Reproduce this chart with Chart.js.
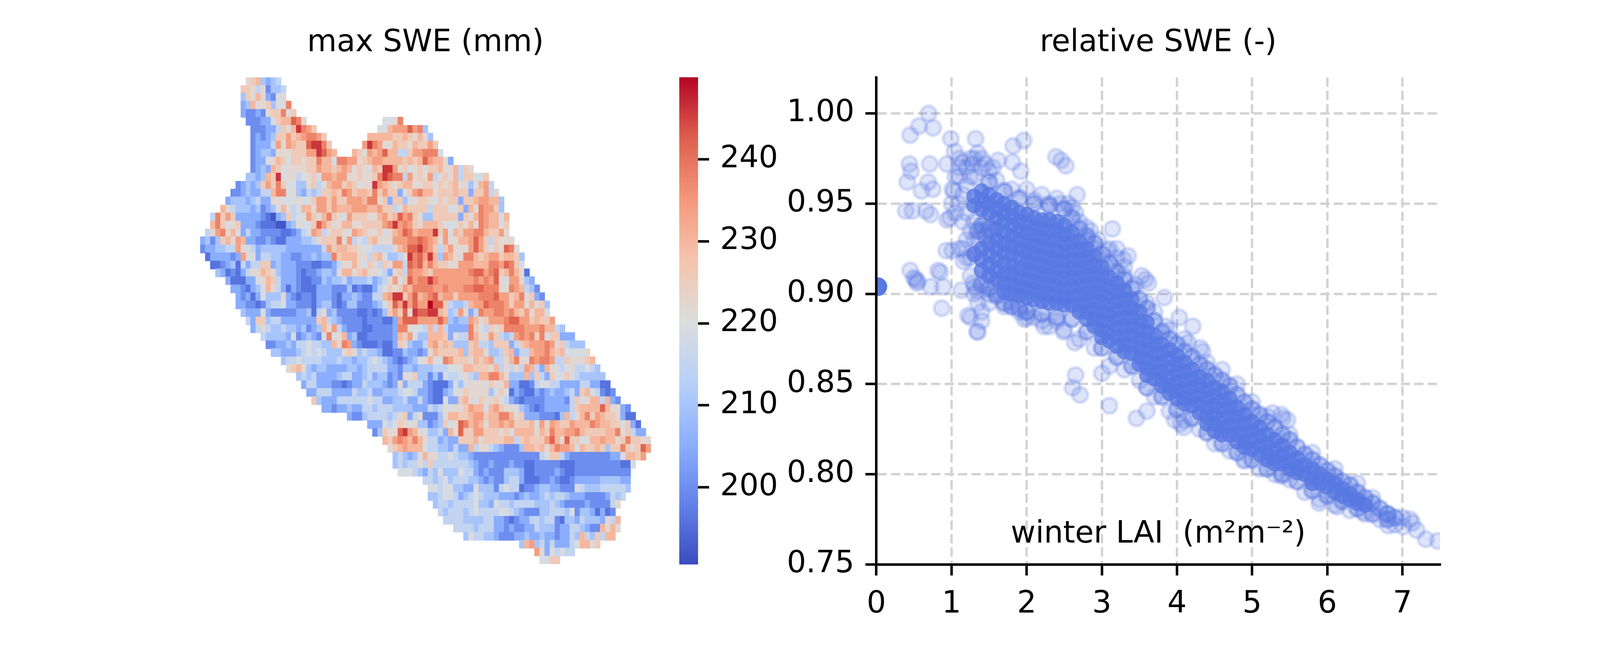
<!DOCTYPE html>
<html>
<head>
<meta charset="utf-8">
<title>SWE and LAI</title>
<script src="https://cdn.jsdelivr.net/npm/chart.js@4"></script>
<style>
  html, body { margin: 0; background: #fff; }
  canvas { position: absolute; top: 0; }
</style>
</head>
<body>
<canvas id="map"></canvas>
<canvas id="bar"></canvas>
<canvas id="lai"></canvas>
<script>
// max SWE map, one string per grid row, one hex digit per cell, '.' = no data
const sweLevels = [192, 196, 200, 205, 210, 215, 219, 222, 226, 230, 234, 238, 242, 246, 250];
const firstCol = [9, 8, 8, 8, 8, 9, 10, 10, 10, 10, 10, 10, 9, 7, 6, 5, 4, 2, 2, 1, 0, 0, 1, 2, 3, 5, 6, 7, 7, 8,
  9, 10, 12, 13, 14, 16, 17, 19, 20, 21, 22, 24, 29, 33, 34, 36, 37, 38, 38, 39, 44, 45, 45, 46, 47, 48, 50, 52, 63, 66, 67];
const sweRows = [
  "7894345",
  "887572445",
  "487973267",
  "349778466b",
  "32232788b78",
  "222336899cb7...............667b",
  "222335879dba8............669aaacab4",
  "2323488a89abba8........9999988987974",
  "23335a7a988cddb8......adba779887988a8",
  "23443777888aadca9...987a9ac99558aabbb6",
  "2336798688788b996bbaa789aa99998989ca9973",
  "2343986777788a9989a9787698dda786786889779587",
  "443498d67756786aa9aa778778bdcbb5a787a57879588668",
  "234348a8b8664478569aa898677da98789977886878977469a5",
  "223433559bb67435458898ba8998b8a88368ab997888988388a57",
  "344434533776667668aa8a88aaa9bb78388467887687883889aa994",
  "9754443423469756997aa8a999aaa99a8856988885888668397baa84",
  "5b8a833333210348566a879b876a888779a89cab8744888883879ba9969",
  "9b8678333211100347668ca87799778888abdaba8799986668797ba9968",
  "57ab79635332222112356a9578876a98778679acb9aaad8a698aabb988a7",
  "3424897a9332232113334457888b7a56589777aaabbcba97a7799aca858777",
  "2334455a76534444433333335a89988766555579accdba858a777aca8687cb7",
  "1333323a76355443322334344b89997758964457dbcad94a977bb989aa89984",
  "112341535588343332221122357797687587aa5cbc9b98877aaa999bbacb86",
  "43121357798743332122344379978977653785baa98aaaaaaabccabc89b971",
  "311133679853332112243445344453457a68cabbdbaaaaaaababac76aa743",
  "3321346975313211133322241211356878a9bbbbaabaaabbccbbb77ba9542",
  "323136444732122133321334322559add8ac9abc9aa8aaaabbbcaa89b7832",
  "3322124556332221344212442223468cadacaaecc854459aacbbba8aa79784",
  "433363222223341573422221121248a8c7dccdd9845a735baabbab98a7996",
  "538845533333338954322221222113acccaaaaca4344a978aaabccaa8988a",
  "3575445443423497a532221122223bb766595953333b865878bbbbaaab9954",
  "5444436234326b679341122222398a64499983655b977a8545abab8b688333",
  "223343556554497ba3211121138743359a898444895548883589aaaba785444",
  "4433345656544478745443112243323798888948997445893559aab98966667",
  "45565555444544344565432123467966ba8887989a5579b77babba55877789",
  "78974344333344345555332443444555667998887957575a95397656755654",
  "45453333455334534423276844242655675499bb974449485386686544444",
  "3553332212335444323735553211136467776877933112566553333553311",
  "3355533335445334445665332113467877774686132113234334538965212",
  "8433355555565533445335321163389768778653212222333325867995932",
  "33233433554555444433354576778a9969a87764321233333589999c97732",
  "3224555545783572224799889aa899bb978333222149579b8a9887311",
  "333656876744234867cb9a9799a9a88896a7a988a999ba99886831",
  "24877cda976445397c88aa8887869999798b99aab9888899b78533",
  "98aba9b9755343388897888899589888ac97c886699a9978b8877",
  "789a99965544353395775432224998979baa9698898488b878ca",
  "4543469775565443222222222222256885322222222336998a",
  "454557585555555432232223221122222111222222222116",
  "6665435464446553232224443112222321122222222222",
  "55456455544323224553111223211233333444433",
  "6656644336444256551223443322265444555554",
  "445665345654443332343345455433322223545",
  "4554555564436554555544454322223222257",
  "54555456555566543222445554624431312",
  "55554444553321233554552144354443759",
  "555545553323223354442335543229797",
  "465544322233433433233549548599",
  "49a4535333569978",
  "a7365655",
  "6688"
];
const mapCols = 89;

// colour bar
const barMin = 190.6;
const barMax = 250;
const barTicks = [200, 210, 220, 230, 240];

// winter LAI against relative SWE, loose points read one by one
const looseLai = [0.695, 0.565, 0.45, 0.755, 0.99, 1.32, 1.96, 1.82, 1.04, 2.39, 2.46, 2.52, 1.62, 1.81, 1.92, 0.94, 0.71, 0.44, 0.46,
  0.41, 0.69, 0.6, 0.75, 1.03, 1.01, 0.39, 0.48, 0.66, 0.72, 0.94, 0.98, 0.45, 0.5, 0.52, 0.54, 0.55, 0.72, 0.82, 0.85, 0.89, 0.87,
  1.13, 0.93, 1.01, 1.16, 1.29, 1.31, 1.34, 1.22, 1.25, 1.4, 1.4, 1.35, 1.34, 2.65, 2.61, 2.71, 3.1, 3.6, 3.46, 3.0, 3.97, 4.05, 4.09,
  5.27, 5.39, 5.41, 5.47, 3.83, 3.53, 3.58, 3.62, 3.14, 3.08, 3.35, 3.29, 2.79, 2.67, 4.34, 4.31, 4.21, 4.03, 3.85, 4.15, 2.64, 2.23,
  1.97, 2.0, 2.49, 4.89, 5.39, 5.89, 6.13, 6.81, 7.13, 7.19, 7.31, 7.47, 7.01, 6.48,
  1.6, 1.8, 2.0, 2.2, 2.4, 2.55, 2.7, 2.85, 2.95, 3.2, 3.3, 3.45, 3.6, 3.7, 3.9, 4.1, 4.4, 4.6, 4.8, 5.0, 5.2, 5.5, 5.8, 6.1, 6.4, 6.6,
  6.8, 7.0, 7.1, 1.5, 1.7, 1.9, 2.1, 2.3, 2.5, 2.7, 2.9, 3.1, 3.3, 3.5, 3.7, 3.9, 4.1, 4.3, 4.5, 4.7, 4.9, 5.1, 5.3, 5.5, 5.7, 5.9,
  6.1, 6.3, 6.5, 6.7, 6.9, 1.1, 1.2, 1.3, 1.4, 1.15, 1.2, 1.25, 1.3, 1.25, 1.1, 1.05,
  1.1, 1.15, 1.25, 1.28, 1.35, 1.4, 1.45, 1.5, 1.55, 1.2, 1.25, 1.3, 1.1, 1.0, 1.05, 1.15, 1.2, 1.15, 1.2, 1.1, 1.25, 1.3, 1.35, 1.45,
  1.5, 1.6, 1.8, 2.0, 2.2, 2.4, 2.1, 2.3, 2.45, 2.6, 2.65, 2.8, 2.9, 3.1, 3.15, 3.3, 3.2, 1.3, 1.4, 1.5, 1.35, 1.45, 1.55];
const looseRel = [1.0, 0.993, 0.988, 0.992, 0.986, 0.986, 0.985, 0.982, 0.979, 0.976, 0.974, 0.971, 0.974, 0.973, 0.968, 0.972, 0.972, 0.972, 0.968,
  0.962, 0.962, 0.957, 0.958, 0.957, 0.958, 0.946, 0.946, 0.946, 0.944, 0.941, 0.942, 0.913, 0.909, 0.908, 0.906, 0.907, 0.904, 0.913, 0.912, 0.904, 0.892,
  0.902, 0.924, 0.924, 0.918, 0.906, 0.904, 0.9015, 0.888, 0.887, 0.89, 0.885, 0.879, 0.879, 0.855, 0.848, 0.844, 0.838, 0.835, 0.831, 0.856, 0.83, 0.828, 0.826,
  0.834, 0.833, 0.831, 0.83, 0.898, 0.91, 0.908, 0.906, 0.936, 0.924, 0.921, 0.919, 0.937, 0.955, 0.868, 0.87, 0.882, 0.887, 0.882, 0.873, 0.873, 0.882,
  0.886, 0.887, 0.879, 0.8075, 0.799, 0.784, 0.782, 0.7715, 0.773, 0.769, 0.764, 0.763, 0.771, 0.779,
  0.963, 0.958, 0.958, 0.955, 0.953, 0.95, 0.94, 0.935, 0.93, 0.925, 0.915, 0.905, 0.895, 0.89, 0.88, 0.875, 0.862, 0.858, 0.85, 0.84, 0.832, 0.822, 0.812, 0.803, 0.795, 0.787,
  0.778, 0.776, 0.775, 0.9, 0.893, 0.89, 0.887, 0.882, 0.88, 0.875, 0.87, 0.86, 0.858, 0.852, 0.843, 0.835, 0.83, 0.825, 0.817, 0.813, 0.808, 0.803, 0.8, 0.797, 0.79, 0.786,
  0.783, 0.78, 0.778, 0.775, 0.772, 0.965, 0.97, 0.975, 0.97, 0.955, 0.945, 0.935, 0.93, 0.92, 0.97, 0.965,
  0.975, 0.973, 0.975, 0.972, 0.978, 0.975, 0.972, 0.968, 0.97, 0.96, 0.965, 0.965, 0.95, 0.95, 0.945, 0.94, 0.93, 0.925, 0.92, 0.925, 0.91, 0.9, 0.895, 0.905,
  0.895, 0.9, 0.895, 0.89, 0.885, 0.885, 0.952, 0.95, 0.95, 0.948, 0.945, 0.93, 0.925, 0.925, 0.915, 0.91, 0.92, 0.94, 0.935, 0.937, 0.93, 0.94, 0.935];

// rim of the cloud, denser than the loose points but not solid
const rimLai = [1.5, 1.7, 1.9, 2.1, 2.3, 2.5, 2.6, 2.7, 2.8, 2.9, 3.0, 3.1, 3.2, 3.3, 3.4, 3.5, 3.6, 3.7, 3.8, 3.9, 4.0, 4.1, 4.2, 4.3, 4.4,
  4.5, 4.6, 4.7, 4.8, 4.9, 5.0, 5.1, 5.2, 5.3, 5.4, 5.5, 5.6, 5.7, 5.8, 5.9, 6.0, 6.1, 6.2, 6.3, 6.4, 6.5, 6.6, 6.7, 6.8, 6.9,
  1.4, 1.5, 1.6, 1.7, 1.8, 1.9, 2.0, 2.2, 2.4, 2.6, 2.8, 3.0, 3.2, 3.4, 3.6, 3.8, 4.0, 4.2, 4.4, 4.6, 4.8, 5.0, 5.2, 5.4, 5.6, 5.8, 6.0, 6.2, 6.4, 6.6, 6.8,
  1.4, 1.5, 1.45, 1.35];
const rimRel = [.962, .957, .953, .95, .949, .947, .942, .936, .932, .928, .922, .917, .912, .908, .903, .897, .892, .885, .879, .875, .872, .868, .865, .861, .858,
  .855, .852, .849, .844, .84, .836, .833, .829, .826, .822, .819, .815, .811, .808, .805, .802, .799, .796, .794, .79, .787, .784, .781, .778, .776,
  .905, .903, .899, .895, .893, .892, .89, .889, .887, .886, .879, .87, .865, .86, .848, .843, .836, .831, .823, .817, .812, .808, .803, .8, .796, .791, .788, .785, .781, .778, .775,
  .938, .936, .932, .935];

// dense band of the cloud, one list of relative SWE per LAI column
const coreLai = [1.3, 1.4, 1.5, 1.6, 1.7, 1.8, 1.9, 2.0, 2.1, 2.2, 2.3, 2.4, 2.5, 2.6, 2.7, 2.8, 2.9, 3.0, 3.1, 3.2, 3.3, 3.4, 3.5, 3.6,
  3.7, 3.8, 3.9, 4.0, 4.1, 4.2, 4.3, 4.4, 4.5, 4.6, 4.7, 4.8, 4.9, 5.0, 5.1, 5.2, 5.3, 5.4, 5.5, 5.6, 5.7, 5.8, 5.9, 6.0, 6.1, 6.2, 6.3, 6.4, 6.5];
const coreRel = [
  [.954, .949, .922],
  [.957, .952, .947, .925, .919, .913],
  [.955, .950, .945, .928, .922, .916, .910],
  [.952, .947, .942, .936, .930, .925, .919, .913, .908],
  [.950, .945, .940, .934, .928, .923, .917, .911, .906, .901],
  [.948, .943, .938, .932, .927, .922, .916, .911, .905, .900],
  [.945, .940, .935, .930, .925, .920, .914, .909, .904, .899],
  [.944, .939, .934, .929, .924, .918, .913, .908, .903, .898],
  [.942, .937, .932, .927, .922, .917, .912, .907, .902, .897],
  [.941, .936, .931, .926, .921, .916, .911, .906, .901, .896],
  [.941, .935, .930, .925, .920, .915, .910, .905, .900, .895],
  [.940, .935, .930, .924, .919, .914, .909, .904, .899, .895],
  [.938, .933, .928, .923, .918, .913, .908, .903, .898, .894],
  [.934, .929, .924, .919, .914, .909, .904, .899, .894],
  [.929, .924, .919, .914, .909, .904, .899, .894, .890],
  [.925, .920, .915, .910, .905, .900, .895, .890, .886],
  [.921, .916, .911, .906, .901, .896, .891, .886, .882],
  [.915, .910, .905, .900, .895, .890, .885, .880, .876],
  [.909, .904, .899, .894, .889, .884, .879, .874],
  [.906, .901, .896, .891, .886, .881, .876, .871],
  [.902, .897, .892, .887, .882, .877, .872, .868],
  [.897, .892, .887, .882, .877, .872, .867],
  [.890, .885, .880, .875, .870, .865, .861],
  [.884, .879, .874, .869, .864, .859, .855],
  [.877, .872, .867, .862, .857, .853],
  [.872, .867, .862, .857, .852, .849],
  [.869, .864, .859, .854, .849, .845],
  [.866, .861, .856, .851, .846, .842],
  [.862, .857, .852, .847, .842, .839],
  [.858, .853, .848, .843, .838],
  [.854, .849, .844, .839, .834],
  [.852, .847, .842, .837, .832, .828],
  [.848, .843, .838, .833, .828, .824],
  [.846, .841, .836, .831, .826, .822],
  [.842, .837, .832, .827, .822],
  [.837, .832, .827, .822, .818],
  [.833, .828, .823, .818, .815],
  [.829, .824, .819, .814],
  [.826, .821, .816, .811],
  [.822, .817, .812, .808],
  [.819, .814, .809, .806],
  [.816, .811, .806],
  [.812, .807, .803],
  [.809, .804, .801],
  [.805, .800],
  [.803, .798, .795],
  [.800, .795],
  [.797, .793],
  [.795, .790],
  [.792, .788],
  [.789, .786],
  [.786, .784],
  [.783]
];
// many cells with no forest pile up at the y axis
const bareLai = [0.02];
const bareRel = [0.904];

const laiTicks = [0, 1, 2, 3, 4, 5, 6, 7];
const relTicks = [0.75, 0.8, 0.85, 0.9, 0.95, 1.0];

// the layout was measured on a 5280 wide page, the real window may be narrower
const sx = Math.min(window.innerWidth / 5280, 1);
const ts = Math.sqrt(sx);
const fontPx = 91.67 * Math.pow(sx, 0.65);
const lineH = fontPx * 1.2;
const tickLen = 32 * ts;
const tickW = 7.3 * ts;

const dotBlue = '88, 120, 226';
const coolwarm = [[59, 76, 192], [98, 130, 234], [141, 176, 254], [184, 208, 249], [221, 221, 221],
  [245, 196, 173], [244, 152, 122], [222, 96, 77], [180, 4, 38]];

Chart.defaults.font.family = '"DejaVu Sans"';
Chart.defaults.font.size = fontPx;
Chart.defaults.color = '#000';
Chart.defaults.animation = false;
Chart.defaults.devicePixelRatio = 1;
Chart.defaults.responsive = false;
Chart.defaults.layout.autoPadding = false;
Chart.defaults.plugins.legend.display = false;
Chart.defaults.plugins.tooltip.enabled = false;

function placeCanvas(id, left, width) {
  const c = document.getElementById(id);
  c.width = Math.round(width * sx);
  c.height = 1650;
  c.style.left = Math.round(left * sx) + 'px';
  return c;
}

function colorAt(t) {
  const p = Math.min(Math.max(t, 0), 1) * (coolwarm.length - 1);
  const i = Math.min(Math.floor(p), coolwarm.length - 2);
  const c = coolwarm[i].map((v, k) => Math.round(v + (coolwarm[i + 1][k] - v) * (p - i)));
  return `rgb(${c.join(',')})`;
}

// the map cells are not square, so each colour gets a small tile as point style
const tiles = {};
function tileFor(value) {
  if (!tiles[value]) {
    const c = document.createElement('canvas');
    c.width = Math.ceil(16.72 * sx) + 1;
    c.height = 22;
    const g = c.getContext('2d');
    g.fillStyle = colorAt((value - barMin) / (barMax - barMin));
    g.fillRect(0, 0, c.width, c.height);
    tiles[value] = c;
  }
  return tiles[value];
}

const mapCells = [];
sweRows.forEach((row, r) => {
  [...row].forEach((ch, i) => {
    if (ch !== '.') {
      mapCells.push({ x: firstCol[r] + i + 0.5, y: r + 0.5, swe: sweLevels[parseInt(ch, 16)] });
    }
  });
});

function titleOf(text) {
  const top = 111 - lineH / 2;
  return { display: true, text, fullSize: false, font: { weight: 'normal' }, padding: { top, bottom: 198 - top - lineH } };
}

new Chart(placeCanvas('map', 600, 1600), {
  type: 'scatter',
  data: {
    datasets: [{
      data: mapCells,
      pointRadius: 1,
      pointStyle: ctx => tileFor(ctx.raw.swe)
    }]
  },
  options: {
    layout: { padding: { left: 61 * sx, right: 51 * sx, bottom: 207 } },
    plugins: { title: titleOf('max SWE (mm)') },
    scales: {
      x: { display: false, min: 0, max: mapCols },
      y: { display: false, min: 0, max: sweRows.length, reverse: true }
    }
  }
});

new Chart(placeCanvas('bar', 2200, 500), {
  type: 'bar',
  data: {
    labels: [''],
    datasets: [{
      data: [[barMin, barMax]],
      barPercentage: 1,
      categoryPercentage: 1,
      borderWidth: 0,
      backgroundColor: ctx => {
        const area = ctx.chart.chartArea;
        if (!area) return '#fff';
        const grad = ctx.chart.ctx.createLinearGradient(0, area.bottom, 0, area.top);
        coolwarm.forEach((c, i) => grad.addColorStop(i / (coolwarm.length - 1), `rgb(${c.join(',')})`));
        return grad;
      }
    }]
  },
  options: {
    layout: { padding: { left: 41 * sx, top: 197.5, bottom: 206 } },
    scales: {
      x: { display: false },
      y: {
        position: 'right',
        min: barMin,
        max: barMax,
        afterFit: s => { s.width = 397 * sx; },
        afterBuildTicks: s => { s.ticks = barTicks.map(v => ({ value: v })); },
        border: { display: false },
        grid: { drawOnChartArea: false, tickLength: tickLen, tickWidth: tickW, tickColor: '#000' },
        ticks: { padding: tickLen }
      }
    }
  }
});

const loosePoints = looseLai.map((x, i) => ({ x, y: looseRel[i] }));
const rimPoints = rimLai.map((x, i) => ({ x, y: rimRel[i] }));
const corePoints = coreLai.flatMap((x, i) => coreRel[i].map(y => ({ x, y })));
const barePoints = bareLai.map((x, i) => ({ x, y: bareRel[i] }));

function ringDots(data, alpha) {
  return {
    data,
    clip: 0,
    pointRadius: 22.5 * ts,
    pointBorderWidth: 9.17 * ts,
    pointBackgroundColor: `rgba(${dotBlue}, ${alpha})`,
    pointBorderColor: `rgba(${dotBlue}, ${alpha})`
  };
}

function solidDots(data, alpha) {
  return {
    data,
    clip: 0,
    pointRadius: 23 * ts,
    pointBorderWidth: 0,
    pointBackgroundColor: `rgba(${dotBlue}, ${alpha})`
  };
}

const axisStyle = {
  border: { color: '#000', width: tickW, z: 1, dash: [27 * ts, 12 * ts] },
  grid: { color: '#d3d3d3', lineWidth: 7 * ts, tickLength: tickLen, tickWidth: tickW, tickColor: '#000' }
};

new Chart(placeCanvas('lai', 2500, 2400), {
  type: 'scatter',
  data: { datasets: [ringDots(loosePoints, 0.2), ringDots(rimPoints, 0.4), solidDots(corePoints, 0.8), ringDots(barePoints, 1)] },
  options: {
    layout: { padding: { right: 147.5 * sx } },
    plugins: { title: titleOf('relative SWE (-)') },
    scales: {
      x: {
        ...axisStyle,
        min: 0,
        max: 7.5,
        afterFit: s => { s.height = 206; },
        afterBuildTicks: s => { s.ticks = laiTicks.map(v => ({ value: v })); },
        ticks: { padding: tickLen, maxRotation: 0, autoSkip: false, z: 1 },
        title: { display: true, text: 'winter LAI  (m²m⁻²)', padding: { top: 0, bottom: 282 - lineH / 2 } }
      },
      y: {
        ...axisStyle,
        min: 0.75,
        max: 1.02,
        afterFit: s => { s.width = 392.6 * sx; },
        afterBuildTicks: s => { s.ticks = relTicks.map(v => ({ value: v })); },
        ticks: { padding: tickLen, autoSkip: false, z: 1, callback: v => v.toFixed(2) }
      }
    }
  }
});
</script>
</body>
</html>
